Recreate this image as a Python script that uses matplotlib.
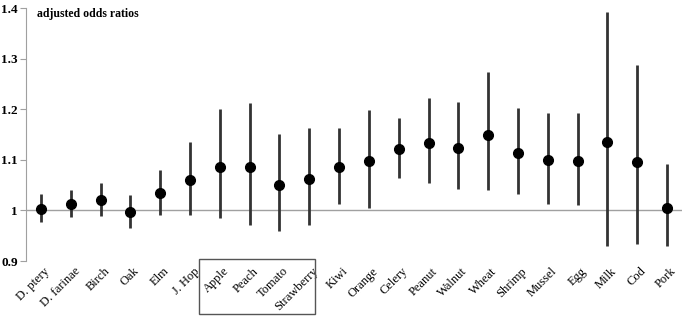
import matplotlib.pyplot as plt
import matplotlib.transforms as mtransforms
from matplotlib.patches import Rectangle
import numpy as np

# dados
alergenos = ['D. ptery', 'D. farinae', 'Birch', 'Oak', 'Elm', 'J. Hop', 'Apple', 'Peach',
             'Tomato', 'Strawberry', 'Kiwi', 'Orange', 'Celery', 'Peanut', 'Walnut', 'Wheat',
             'Shrimp', 'Mussel', 'Egg', 'Milk', 'Cod', 'Pork']
odds = [1.002, 1.012, 1.021, 0.997, 1.034, 1.060, 1.086, 1.086, 1.050, 1.062, 1.086,
        1.097, 1.121, 1.134, 1.124, 1.150, 1.114, 1.099, 1.097, 1.135, 1.096, 1.005]
ic_inf = [0.977, 0.986, 0.988, 0.965, 0.991, 0.990, 0.985, 0.972, 0.959, 0.971, 1.013,
          1.005, 1.065, 1.055, 1.042, 1.040, 1.033, 1.013, 1.010, 0.929, 0.933, 0.929]
ic_sup = [1.032, 1.040, 1.055, 1.031, 1.080, 1.135, 1.200, 1.213, 1.151, 1.163, 1.162,
          1.198, 1.182, 1.222, 1.215, 1.274, 1.203, 1.192, 1.193, 1.392, 1.287, 1.092]

plt.rcParams.update({'font.family': 'Liberation Serif'})

fig = plt.figure(figsize=(6.85, 3.16), dpi=100)
ax = fig.add_axes([26 / 685, 1 - 261 / 316, 656 / 685, 253 / 316])

x = np.arange(len(alergenos))
odds = np.array(odds)
yerr = [odds - np.array(ic_inf), np.array(ic_sup) - odds]

ax.axhline(1.0, color='#a0a0a0', lw=1.0, zorder=1)
ax.errorbar(x, odds, yerr=yerr, fmt='o', color='black', ecolor='#333333',
            elinewidth=2.0, capsize=0, markersize=7, zorder=3)

ax.set_xlim(-0.5, len(alergenos) - 0.5)
ax.set_ylim(0.9, 1.4)
ax.set_yticks([0.9, 1.0, 1.1, 1.2, 1.3, 1.4])
ax.set_yticklabels(['0.9', '1', '1.1', '1.2', '1.3', '1.4'], fontsize=9.5, fontweight='bold')
ax.set_xticks(x)
ax.set_xticklabels(alergenos, rotation=45, ha='right', rotation_mode='anchor', fontsize=9)
ax.tick_params(axis='x', length=0, pad=3)
ax.tick_params(axis='y', length=4, color='#a0a0a0', pad=2)

# desloca os rotulos um pouco para a direita, como no original
desloc = mtransforms.ScaledTranslation(3 / 100, 0, fig.dpi_scale_trans)
for rot in ax.get_xticklabels():
    rot.set_transform(rot.get_transform() + desloc)

for lado in ['top', 'right', 'bottom']:
    ax.spines[lado].set_visible(False)
ax.spines['left'].set_color('#a0a0a0')

ax.text(0.017, 1.0, 'adjusted odds ratios', transform=ax.transAxes, fontsize=8.5,
        fontweight='bold', va='top', ha='left')

# caixa em volta das frutas
trans = mtransforms.blended_transform_factory(ax.transData, fig.transFigure)
caixa = Rectangle((5.3, 1 - 314 / 316), 3.9, 55 / 316, transform=trans, fill=False,
                  edgecolor='#555555', lw=1.0, clip_on=False)
fig.add_artist(caixa)

plt.savefig('out.png', dpi=100)
